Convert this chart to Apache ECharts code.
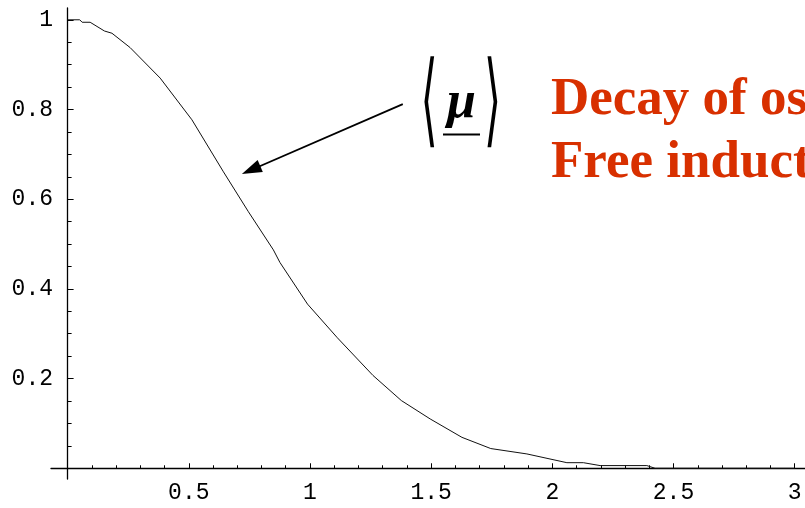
<!DOCTYPE html>
<html><head><meta charset="utf-8">
<script src="https://cdn.jsdelivr.net/npm/echarts@6/dist/echarts.min.js"></script>
<style>html,body{margin:0;padding:0;background:#fff}#c{width:805px;height:508px}</style>
</head><body><div id="c"></div>
<script>
// ---- data ----
const xValues = [0, 0.05, 0.06, 0.093, 0.152, 0.183, 0.258, 0.382, 0.513, 0.643, 0.746, 0.849, 0.876, 0.99, 1.113, 1.26, 1.377, 1.496, 1.627, 1.746, 1.895, 2.06, 2.128, 2.197, 2.39, 2.424, 3.0];
const yValues = [1.0, 1.0, 0.9945, 0.9945, 0.975, 0.970, 0.938, 0.870, 0.777, 0.661, 0.572, 0.487, 0.459, 0.366, 0.291, 0.207, 0.151, 0.110, 0.069, 0.044, 0.032, 0.0125, 0.0125, 0.006, 0.006, 0.0, 0.0];
const xMajorTicks = [0.5, 1, 1.5, 2, 2.5, 3];
const xTickLabels = ['0.5', '1', '1.5', '2', '2.5', '3'];
const xMinorTicks = [0.1, 0.2, 0.3, 0.4, 0.6, 0.7, 0.8, 0.9, 1.1, 1.2, 1.3, 1.4, 1.6, 1.7, 1.8, 1.9, 2.1, 2.2, 2.3, 2.4, 2.6, 2.7, 2.8, 2.9];
const yMajorTicks = [0.2, 0.4, 0.6, 0.8, 1];
const yTickLabels = ['0.2', '0.4', '0.6', '0.8', '1'];
const yMinorTicks = [0.05, 0.1, 0.15, 0.25, 0.3, 0.35, 0.45, 0.5, 0.55, 0.65, 0.7, 0.75, 0.85, 0.9, 0.95];
const arrowFrom = [1.383, 0.812];
const arrowTo = [0.757, 0.665];
const annotationSymbol = 'μ';
const titleLines = ['Decay of oscillations', 'Free induction decay'];

// ---- chart ----
const mono = '"Liberation Mono", "DejaVu Sans Mono", monospace';
function labelFor(ticks, labels) {
  return function (v) {
    let best = 0;
    for (let i = 1; i < ticks.length; i++) if (Math.abs(ticks[i] - v) < Math.abs(ticks[best] - v)) best = i;
    return labels[best];
  };
}
const xBase = { type: 'value', min: -0.0685, max: 3.0425, position: 'bottom', splitLine: { show: false }, gridIndex: 0 };
const yBase = { type: 'value', min: -0.0239, max: 1.0263, position: 'left', splitLine: { show: false }, gridIndex: 0 };
const chart = echarts.init(document.getElementById('c'), null, { renderer: 'canvas' });
chart.setOption({
  animation: false,
  backgroundColor: '#fff',
  grid: { left: 51, right: 0, top: 8, bottom: 29, containLabel: false, outerBoundsMode: 'none' },
  xAxis: [
    Object.assign({}, xBase, {
      axisLine: { show: true, onZero: true, onZeroAxisIndex: 0, lineStyle: { color: '#000', width: 1.3 } },
      axisTick: { show: true, inside: true, length: 5, customValues: xMajorTicks, lineStyle: { color: '#000', width: 1 } },
      axisLabel: { show: true, customValues: xMajorTicks, margin: 2.5, fontFamily: mono, fontSize: 23, color: '#000', formatter: labelFor(xMajorTicks, xTickLabels) }
    }),
    Object.assign({}, xBase, {
      axisLine: { show: false, onZero: true, onZeroAxisIndex: 0 },
      axisTick: { show: true, inside: true, length: 3, customValues: xMinorTicks, lineStyle: { color: '#000', width: 1 } },
      axisLabel: { show: false }
    })
  ],
  yAxis: [
    Object.assign({}, yBase, {
      axisLine: { show: true, onZero: true, onZeroAxisIndex: 0, lineStyle: { color: '#000', width: 1.3 } },
      axisTick: { show: true, inside: true, length: 6, customValues: yMajorTicks, lineStyle: { color: '#000', width: 1 } },
      axisLabel: { show: true, customValues: yMajorTicks, margin: -2, fontFamily: mono, fontSize: 23, color: '#000', formatter: labelFor(yMajorTicks, yTickLabels) }
    }),
    Object.assign({}, yBase, {
      axisLine: { show: false, onZero: true, onZeroAxisIndex: 0 },
      axisTick: { show: true, inside: true, length: 4, customValues: yMinorTicks, lineStyle: { color: '#000', width: 1 } },
      axisLabel: { show: false }
    })
  ],
  series: [{
    type: 'line',
    xAxisIndex: 0, yAxisIndex: 0,
    data: xValues.map((x, i) => [x, yValues[i]]),
    symbol: 'none', showSymbol: false, smooth: false, silent: true,
    lineStyle: { color: '#111', width: 1 },
    markLine: {
      silent: true, animation: false,
      symbol: ['none', 'triangle'], symbolSize: [13, 20],
      lineStyle: { color: '#000', width: 1.8, type: 'solid' },
      label: { show: false },
      data: [[{ coord: arrowFrom }, { coord: arrowTo }]]
    }
  }],
  graphic: [
    { type: 'text', x: 429, y: 107.3, scaleY: 2.32, style: { text: '⟨', font: '44px "DejaVu Sans"', fill: '#000', align: 'center', verticalAlign: 'middle' } },
    { type: 'text', x: 492.5, y: 107.3, scaleY: 2.32, style: { text: '⟩', font: '44px "DejaVu Sans"', fill: '#000', align: 'center', verticalAlign: 'middle' } },
    { type: 'text', x: 461.5, y: 104, style: { text: annotationSymbol, font: 'italic bold 52px "Liberation Serif"', fill: '#000', align: 'center', verticalAlign: 'middle' } },
    { type: 'line', shape: { x1: 443, y1: 134.5, x2: 480, y2: 134.5 }, style: { stroke: '#000', lineWidth: 2 } },
    { type: 'text', x: 551, y: 100, style: { text: titleLines[0], font: 'bold 53px "Liberation Serif"', fill: '#D83000', align: 'left', verticalAlign: 'middle' } },
    { type: 'text', x: 551, y: 163, style: { text: titleLines[1], font: 'bold 53px "Liberation Serif"', fill: '#D83000', align: 'left', verticalAlign: 'middle' } }
  ]
});
</script>
</body></html>
